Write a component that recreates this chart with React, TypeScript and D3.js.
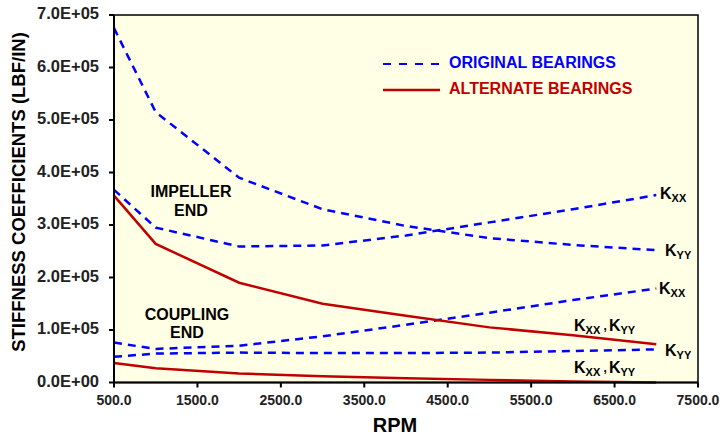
import React from "react";
import * as d3 from "d3";

const rpm = [500, 1000, 2000, 3000, 4000, 5000, 6000, 7000];
const origIeKyy = [675000, 515000, 390000, 330000, 298000, 275000, 262000, 252000];
const origIeKxx = [367000, 295000, 259000, 261000, 280000, 305000, 330000, 357000];
const origCeKxx = [76000, 64000, 70000, 88000, 110000, 133000, 157000, 179000];
const origCeKyy = [49000, 55000, 57000, 56000, 56000, 57000, 60000, 63000];
const altIe = [356000, 264000, 190000, 150000, 127000, 105000, 90000, 73000];
const altCe = [37000, 27000, 17000, 12000, 8000, 5000, 2000, 0];

const xTicks = [500, 1500, 2500, 3500, 4500, 5500, 6500, 7500];
const yTicks = [0, 100000, 200000, 300000, 400000, 500000, 600000, 700000];

const W = 720, H = 438;
const L = 114, R = 698, T = 15, B = 382.5;
const BLUE = "#0000FF";
const RED = "#C00000";
const FONT = "Arial, 'Liberation Sans', sans-serif";

export default function App() {
  const x = d3.scaleLinear().domain([500, 7500]).range([L, R]);
  const y = d3.scaleLinear().domain([0, 700000]).range([B, T]);
  const line = d3.line<number>().x((_, i) => x(rpm[i])).y((d) => y(d));
  const fx = d3.format(".1f");
  const fy = (v: number) => (v === 0 ? "0.0E+00" : (v / 1e5).toFixed(1) + "E+05");

  const dashed = [origIeKyy, origIeKxx, origCeKxx, origCeKyy];
  const solid = [altIe, altCe];

  const K = (px: number, py: number, sub: string, key: string) => (
    <text key={key} x={px} y={py} fontFamily={FONT} fontSize={16} fontWeight="bold" fill="#000" dominantBaseline="middle">
      K<tspan fontSize={11} dy={4}>{sub}</tspan>
    </text>
  );
  const K2 = (px: number, py: number, key: string) => (
    <text key={key} x={px} y={py} fontFamily={FONT} fontSize={16} fontWeight="bold" fill="#000" dominantBaseline="middle">
      K<tspan fontSize={11} dy={4}>XX</tspan><tspan dy={-4} fontSize={12}> ,</tspan><tspan dx={2}>K</tspan><tspan fontSize={11} dy={4}>YY</tspan>
    </text>
  );

  return (
    <svg width={W} height={H} style={{ position: "absolute", left: 0, top: 0, background: "#fff" }}>
      <rect x={L} y={T} width={R - L} height={B - T} fill="#FFFFE6" stroke="#000" strokeWidth={1.5} />
      {dashed.map((d, i) => (
        <path key={"d" + i} d={line(d) || ""} fill="none" stroke={BLUE} strokeWidth={2.5} strokeDasharray="8,6" />
      ))}
      {solid.map((d, i) => (
        <path key={"s" + i} d={line(d) || ""} fill="none" stroke={RED} strokeWidth={2.5} />
      ))}
      <line x1={L} x2={L} y1={T} y2={B} stroke="#000" strokeWidth={2} />
      <line x1={L} x2={R} y1={B} y2={B} stroke="#000" strokeWidth={2} />
      {yTicks.map((t) => (
        <g key={"yt" + t}>
          <line x1={L - 5} x2={L} y1={y(t)} y2={y(t)} stroke="#000" strokeWidth={2} />
          <text x={99} y={y(t)} textAnchor="end" dominantBaseline="middle" fontFamily={FONT} fontSize={16.5} fontWeight="bold" fill="#222">
            {fy(t)}
          </text>
        </g>
      ))}
      {xTicks.map((t) => (
        <g key={"xt" + t}>
          <line x1={x(t)} x2={x(t)} y1={B} y2={B + 5} stroke="#000" strokeWidth={2} />
          <text x={x(t)} y={405} textAnchor="middle" fontFamily={FONT} fontSize={14} fontWeight="bold" fill="#222">
            {fx(t)}
          </text>
        </g>
      ))}
      <text x={395} y={432} textAnchor="middle" fontFamily={FONT} fontSize={20} fontWeight="bold" fill="#000">RPM</text>
      <text transform="translate(20,192) rotate(-90)" textAnchor="middle" dominantBaseline="middle" fontFamily={FONT} fontSize={18.5} fontWeight="bold" fill="#000">
        STIFFNESS COEFFICIENTS (LBF/IN)
      </text>
      {/* legend */}
      <line x1={383} x2={440} y1={64} y2={64} stroke={BLUE} strokeWidth={2} strokeDasharray="8,8" />
      <text x={449} y={64} dominantBaseline="middle" fontFamily={FONT} fontSize={16} fontWeight="bold" fill={BLUE}>ORIGINAL BEARINGS</text>
      <line x1={383} x2={440} y1={90} y2={90} stroke={RED} strokeWidth={2.5} />
      <text x={449} y={90} dominantBaseline="middle" fontFamily={FONT} fontSize={16} fontWeight="bold" fill={RED}>ALTERNATE BEARINGS</text>
      {/* region labels */}
      <text x={191} y={193} textAnchor="middle" dominantBaseline="middle" fontFamily={FONT} fontSize={16} fontWeight="bold" fill="#000">IMPELLER</text>
      <text x={191} y={212} textAnchor="middle" dominantBaseline="middle" fontFamily={FONT} fontSize={16} fontWeight="bold" fill="#000">END</text>
      <text x={187} y={316} textAnchor="middle" dominantBaseline="middle" fontFamily={FONT} fontSize={16} fontWeight="bold" fill="#000">COUPLING</text>
      <text x={187} y={334} textAnchor="middle" dominantBaseline="middle" fontFamily={FONT} fontSize={16} fontWeight="bold" fill="#000">END</text>
      {K(660, 195, "XX", "k1")}
      {K(665, 252, "YY", "k2")}
      {K(659, 290, "XX", "k3")}
      {K2(574, 327, "k4")}
      {K(665, 352, "YY", "k5")}
      {K2(574, 369, "k6")}
    </svg>
  );
}
